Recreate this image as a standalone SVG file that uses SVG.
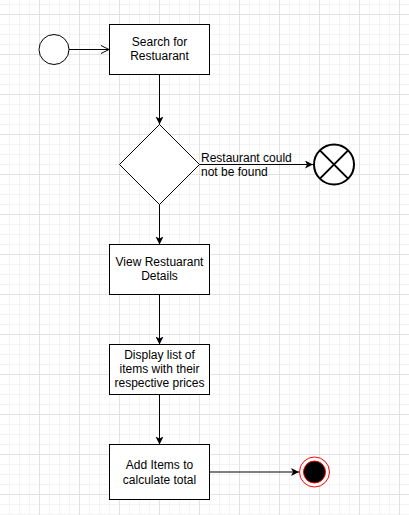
<svg xmlns="http://www.w3.org/2000/svg" width="409" height="515" viewBox="0 0 409 515">
<style>
.box{fill:#fff;stroke:#000;stroke-width:1}
.t{font-family:"Liberation Sans",Arial,sans-serif;font-size:12px;fill:#000}
.c{text-anchor:middle}
.edge{fill:none;stroke:#000;stroke-width:1}
</style>
<defs>
<pattern id="grid" width="40" height="40" x="0" y="14" patternUnits="userSpaceOnUse">
<path d="M9.5,0V40M19.5,0V40M29.5,0V40M0,10.5H40M0,20.5H40M0,30.5H40" stroke="#f3f3f3" stroke-width="1" fill="none"/>
<path d="M39.5,0V40M0,0.5H40" stroke="#e2e2e2" stroke-width="1" fill="none"/>
</pattern>
<marker id="arr" markerWidth="10" markerHeight="10" refX="8" refY="4" orient="auto" markerUnits="userSpaceOnUse">
<path d="M0,0 L8,4 L0,8 L2,4 z" fill="#000"/>
</marker>
<marker id="open" markerWidth="12" markerHeight="12" refX="9" refY="5" orient="auto" markerUnits="userSpaceOnUse">
<path d="M1,1 L9,5 L1,9" fill="none" stroke="#000" stroke-width="1"/>
</marker>
</defs>
<rect width="409" height="515" fill="#fff"/>
<rect width="409" height="515" fill="url(#grid)"/>
<g id="connectors">
<line class="edge" x1="69" y1="49.5" x2="109" y2="49.5" marker-end="url(#open)"/>
<line class="edge" x1="159.5" y1="74.5" x2="159.5" y2="124.5" marker-end="url(#arr)"/>
<line class="edge" x1="199.5" y1="164.5" x2="313" y2="164.5" marker-end="url(#arr)"/>
<line class="edge" x1="159.5" y1="204.5" x2="159.5" y2="244.5" marker-end="url(#arr)"/>
<line class="edge" x1="159.5" y1="294.5" x2="159.5" y2="344.5" marker-end="url(#arr)"/>
<line class="edge" x1="159.5" y1="394.5" x2="159.5" y2="444.5" marker-end="url(#arr)"/>
<line class="edge" x1="209.5" y1="472" x2="299" y2="472" marker-end="url(#arr)"/>
<text class="t" x="201" y="162">Restaurant could</text>
<text class="t" x="201" y="176">not be found</text>
</g>
<g id="start">
<circle cx="54" cy="49.5" r="15" fill="#fff" stroke="#000" stroke-width="1"/>
</g>
<g id="search">
<rect class="box" x="109.5" y="24.5" width="100" height="50"/>
<text class="t c" x="159.5" y="46">Search for</text>
<text class="t c" x="159.5" y="60">Restuarant</text>
</g>
<g id="decision">
<polygon points="159.5,124.5 199.5,164.5 159.5,204.5 119.5,164.5" fill="#fff" stroke="#000" stroke-width="1"/>
</g>
<g id="notfound">
<circle cx="334" cy="164.5" r="20" fill="#fff" stroke="#000" stroke-width="2"/>
<path d="M319.9,150.4L348.1,178.6M348.1,150.4L319.9,178.6" stroke="#000" stroke-width="2"/>
</g>
<g id="view">
<rect class="box" x="109.5" y="244.5" width="100" height="50"/>
<text class="t c" x="159.5" y="266">View Restuarant</text>
<text class="t c" x="159.5" y="280">Details</text>
</g>
<g id="display">
<rect class="box" x="109.5" y="344.5" width="100" height="50"/>
<text class="t c" x="159.5" y="359">Display list of</text>
<text class="t c" x="159.5" y="373">items with their</text>
<text class="t c" x="159.5" y="387">respective prices</text>
</g>
<g id="add">
<rect class="box" x="109.5" y="444.5" width="100" height="55"/>
<text class="t c" x="159.5" y="469">Add Items to</text>
<text class="t c" x="159.5" y="483.5">calculate total</text>
</g>
<g id="end">
<circle cx="314.5" cy="472" r="15" fill="#fff" stroke="#ff0000" stroke-width="1"/>
<circle cx="314.5" cy="472" r="11" fill="#000" stroke="#ff0000" stroke-width="1"/>
</g>
</svg>
